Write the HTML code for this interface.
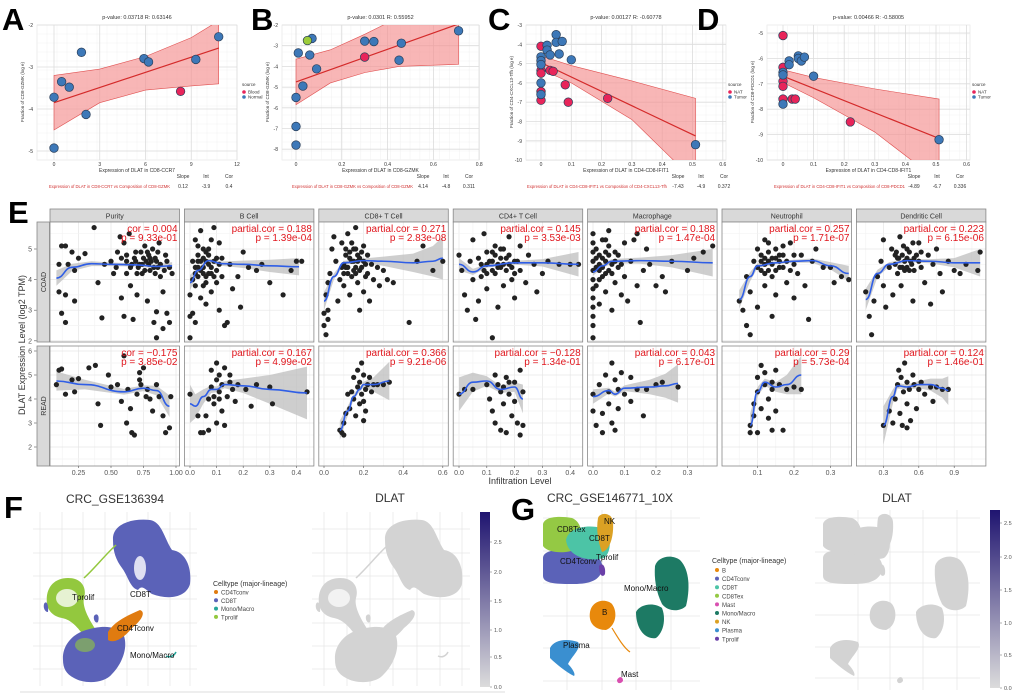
<!DOCTYPE html>
<html><head><meta charset="utf-8">
<style>
html,body{margin:0;padding:0;background:#fff;}
svg{display:block;font-family:"Liberation Sans",sans-serif;}
</style></head>
<body>
<svg id="fig" width="1020" height="698" viewBox="0 0 1020 698" xmlns="http://www.w3.org/2000/svg"></svg>
<script>
// ---------- data: panels A-D ----------
const aBlue = [[0,-3.72],[0.5,-3.35],[1,-3.48],[1.8,-2.65],[2.1,-4.13],[0,-4.93],[5.9,-2.8],[6.2,-2.88],[9.3,-2.82],[10.8,-2.28]];
const aRed = [[8.3,-3.58]];
const aLine = [[0,-3.85],[10.8,-2.55]];
const aUpper = [[0,-3.2],[3,-3.05],[6,-2.75],[9,-2.3],[10.8,-1.9]];
const aLower = [[0,-4.5],[3,-3.85],[6,-3.55],[9,-3.45],[10.8,-3.4]];
const bBlue = [[0,-5.5],[0,-6.9],[0,-7.8],[0.01,-3.35],[0.03,-4.95],[0.06,-3.45],[0.07,-2.65],[0.09,-4.12],[0.3,-2.78],[0.34,-2.8],[0.45,-3.7],[0.46,-2.88],[0.71,-2.28]];
const bRed = [[0.3,-3.55]];
const bGreen = [[0.05,-2.75]];
const bLine = [[0,-4.75],[0.71,-1.95]];
const bUpper = [[0,-3.65],[0.15,-3.2],[0.3,-2.45],[0.4,-1.9],[0.71,-1.5]];
const bLower = [[0,-5.85],[0.15,-4.8],[0.3,-4.3],[0.45,-4.0],[0.71,-3.9]];
const cBlue = [[0,-4.65],[0,-4.85],[0,-5.05],[0,-6.0],[0,-6.6],[0.02,-4.05],[0.02,-4.3],[0.05,-3.5],[0.05,-3.9],[0.03,-4.55],[0.06,-4.5],[0.07,-3.85],[0.1,-4.8],[0.51,-9.2]];
const cRed = [[0,-4.1],[0,-5.35],[0,-5.5],[0,-6.45],[0,-6.9],[0.03,-5.35],[0.04,-5.4],[0.08,-6.1],[0.09,-7.0],[0.22,-6.8]];
const cLine = [[0,-4.95],[0.51,-8.75]];
const cUpper = [[0,-4.6],[0.1,-5.1],[0.3,-5.9],[0.51,-6.8]];
const cLower = [[0,-5.3],[0.1,-6.0],[0.3,-7.9],[0.45,-10.2],[0.51,-11]];
const dBlue = [[0,-6.55],[0,-6.65],[0,-7.8],[0.02,-6.1],[0.02,-6.25],[0.05,-5.9],[0.05,-6.0],[0.06,-6.1],[0.07,-5.95],[0.1,-6.7],[0.51,-9.2]];
const dRed = [[0,-5.1],[0,-6.35],[0,-6.9],[0,-7.1],[0,-7.6],[0.03,-7.6],[0.04,-7.6],[0.22,-8.5]];
const dLine = [[0,-6.7],[0.51,-9.15]];
const dUpper = [[0,-6.45],[0.1,-6.75],[0.3,-7.2],[0.51,-7.6]];
const dLower = [[0,-6.95],[0.1,-7.55],[0.3,-8.9],[0.43,-10.1],[0.51,-10.6]];

// ---------- data: panel E ----------
const eCols = ["Purity","B Cell","CD8+ T Cell","CD4+ T Cell","Macrophage","Neutrophil","Dendritic Cell"];
const eTicks = [[0.25,0.5,0.75,1.0],[0,0.1,0.2,0.3,0.4],[0,0.2,0.4,0.6],[0,0.1,0.2,0.3,0.4],[0,0.1,0.2,0.3],[0.1,0.2,0.3],[0.3,0.6,0.9]];
const eTickLabels = [["0.25","0.50","0.75","1.00"],["0.0","0.1","0.2","0.3","0.4"],["0.0","0.2","0.4","0.6"],["0.0","0.1","0.2","0.3","0.4"],["0.0","0.1","0.2","0.3"],["0.1","0.2","0.3"],["0.3","0.6","0.9"]];
const eCoadCor = ["cor = 0.004","partial.cor = 0.188","partial.cor = 0.271","partial.cor = 0.145","partial.cor = 0.188","partial.cor = 0.257","partial.cor = 0.223"];
const eCoadP = ["p = 9.33e-01","p = 1.39e-04","p = 2.83e-08","p = 3.53e-03","p = 1.47e-04","p = 1.71e-07","p = 6.15e-06"];
const eReadCor = ["cor = \u22120.175","partial.cor = 0.167","partial.cor = 0.366","partial.cor = \u22120.128","partial.cor = 0.043","partial.cor = 0.29","partial.cor = 0.124"];
const eReadP = ["p = 3.85e-02","p = 4.99e-02","p = 9.21e-06","p = 1.34e-01","p = 6.17e-01","p = 5.73e-04","p = 1.46e-01"];
const eCoadPts = [
"0.37,5.7 0.12,5.1 0.15,5.1 0.2,4.9 0.3,4.85 0.25,4.7 0.1,4.5 0.17,4.5 0.22,4.3 0.1,3.6 0.15,3.5 0.22,3.3 0.12,2.9 0.15,2.6 0.4,3.9 0.43,2.75 0.5,4.6 0.55,4.9 0.6,5.2 0.62,4.2 0.65,3.8 0.7,3.5 0.72,4.5 0.75,4.7 0.78,4.9 0.8,4.3 0.82,5.0 0.85,4.6 0.88,4.1 0.9,3.6 0.92,4.8 0.95,4.4 0.97,4.2 0.68,4.7 0.73,4.9 0.77,4.6 0.83,4.4 0.87,5.2 0.58,3.4 0.6,2.8 0.67,2.7 0.78,3.3 0.83,2.6 0.85,2.95 0.85,2.1 0.9,2.4 0.93,2.9 0.95,2.6 0.65,4.4 0.7,4.2 0.76,4.3 0.8,4.7 0.86,4.9 0.64,5.5 0.45,4.5 0.52,4.2 0.57,5.4 0.74,4.5 0.79,4.5 0.69,4.6 0.84,4.7 0.62,4.8 0.66,4.5 0.71,4.4 0.74,4.2 0.79,4.8 0.81,4.6 0.84,4.2 0.88,4.5 0.91,4.3 0.69,4.9 0.76,5.1 0.62,4.6 0.86,4.4 0.93,4.6 0.58,4.7 0.54,4.4",
"0.0,2.1 0.0,2.8 0.01,2.9 0.02,2.6 0.0,3.5 0.01,4.0 0.02,4.4 0.03,4.8 0.02,5.3 0.04,5.6 0.05,4.2 0.05,3.8 0.06,3.2 0.07,5.0 0.07,4.5 0.08,3.6 0.09,5.7 0.1,4.3 0.1,3.9 0.11,3.0 0.11,5.2 0.12,4.7 0.13,2.5 0.14,2.6 0.15,4.5 0.16,3.7 0.18,4.1 0.19,3.1 0.2,4.9 0.22,4.4 0.25,4.3 0.27,4.5 0.3,3.9 0.35,3.5 0.38,4.3 0.4,4.6 0.42,4.6 0.04,4.6 0.06,4.9 0.08,4.4 0.03,4.1 0.09,4.1 0.12,4.1 0.04,3.4 0.01,4.6 0.05,4.4 0.07,4.2 0.06,4.6 0.03,4.4 0.02,4.2 0.03,4.6 0.04,4.3 0.05,4.7 0.06,4.1 0.07,4.8 0.08,4.2 0.09,4.6 0.1,4.7 0.02,3.8 0.05,5.0 0.03,5.1 0.08,5.3 0.11,4.5 0.06,3.9",
"0.0,2.9 0.0,2.5 0.01,2.2 0.02,2.7 0.02,3.0 0.01,3.5 0.02,3.9 0.03,4.2 0.04,5.0 0.05,5.4 0.06,4.6 0.07,3.3 0.08,4.0 0.09,5.2 0.1,4.5 0.1,3.8 0.11,4.8 0.12,5.5 0.12,4.2 0.13,3.5 0.14,4.6 0.15,5.0 0.15,4.3 0.16,5.7 0.17,3.9 0.18,4.7 0.18,3.0 0.19,4.4 0.2,5.1 0.2,3.6 0.21,4.1 0.22,4.8 0.23,3.3 0.24,4.5 0.25,4.0 0.27,4.4 0.28,3.8 0.3,4.3 0.32,4.0 0.35,3.9 0.43,2.6 0.47,4.6 0.5,5.1 0.55,4.3 0.6,4.6 0.13,4.9 0.16,4.4 0.14,4.1 0.11,4.4 0.17,4.6 0.1,4.2 0.12,4.4 0.13,4.7 0.15,4.6 0.16,4.2 0.17,4.8 0.18,4.3 0.19,4.9 0.2,4.6 0.14,5.2 0.11,5.0 0.21,4.5 0.09,4.4 0.16,5.0 0.22,4.2",
"0.0,4.8 0.01,4.3 0.02,3.5 0.03,3.0 0.04,4.6 0.05,5.3 0.06,2.7 0.07,3.3 0.08,4.1 0.09,5.5 0.1,4.5 0.1,3.7 0.12,4.9 0.12,2.1 0.13,4.2 0.14,3.1 0.15,5.0 0.15,4.4 0.16,3.8 0.17,4.7 0.18,5.4 0.19,4.0 0.2,3.4 0.2,4.6 0.22,5.1 0.22,4.3 0.24,3.9 0.25,4.8 0.27,4.5 0.28,3.6 0.3,4.2 0.32,4.6 0.36,4.5 0.4,4.5 0.43,4.5 0.12,4.6 0.17,4.3 0.2,4.2 0.05,4.0 0.1,4.2 0.14,4.5 0.18,4.5 0.08,4.5 0.09,4.3 0.11,4.6 0.12,4.3 0.13,4.8 0.14,4.4 0.15,4.7 0.16,4.5 0.18,4.8 0.19,4.4 0.21,4.6 0.1,4.9 0.13,5.1 0.16,5.0 0.07,4.7",
"0.0,2.1 0.0,2.5 0.0,2.8 0.0,3.1 0.0,3.4 0.0,3.7 0.0,4.0 0.0,4.3 0.0,4.6 0.0,4.9 0.0,5.2 0.0,5.5 0.01,4.4 0.01,3.8 0.02,4.8 0.02,3.2 0.03,5.3 0.03,4.1 0.04,4.6 0.04,3.6 0.05,5.6 0.05,4.3 0.06,3.0 0.07,4.9 0.07,3.9 0.08,4.4 0.09,3.5 0.1,5.2 0.1,4.1 0.11,3.3 0.12,4.6 0.13,5.3 0.14,3.8 0.15,2.6 0.16,4.3 0.17,5.0 0.18,4.5 0.2,3.8 0.22,4.1 0.23,3.6 0.25,4.6 0.3,4.3 0.32,4.7 0.35,4.9 0.38,5.1 0.14,5.5 0.02,4.3 0.04,4.9 0.01,4.7 0.01,5.0 0.02,4.5 0.02,4.0 0.03,4.7 0.03,4.4 0.04,4.2 0.05,4.8 0.06,4.5 0.06,4.2 0.07,4.6 0.08,4.8 0.09,4.5 0.05,5.1 0.04,5.3",
"0.05,3.3 0.06,3.0 0.07,2.5 0.08,2.2 0.07,4.1 0.08,3.6 0.09,4.6 0.1,5.0 0.1,3.1 0.11,4.3 0.12,3.8 0.12,5.3 0.13,4.6 0.14,2.8 0.14,4.1 0.15,5.0 0.15,3.5 0.16,4.4 0.17,4.8 0.18,3.9 0.19,5.2 0.2,4.5 0.2,3.4 0.21,4.2 0.22,4.8 0.23,3.8 0.24,2.7 0.25,4.6 0.26,5.0 0.28,4.4 0.3,4.4 0.31,3.9 0.33,4.1 0.35,4.0 0.13,4.3 0.16,4.6 0.11,4.8 0.12,4.5 0.14,4.7 0.1,4.4 0.11,4.6 0.12,4.2 0.13,4.9 0.14,4.5 0.15,4.3 0.16,4.8 0.17,4.4 0.18,4.6 0.19,4.3 0.2,4.8 0.12,4.7 0.15,4.7 0.17,5.1 0.13,5.2",
"0.15,3.6 0.18,2.8 0.2,2.2 0.22,3.3 0.25,4.1 0.28,4.6 0.3,5.3 0.3,3.8 0.32,3.1 0.35,4.4 0.37,5.0 0.38,3.5 0.4,4.8 0.42,4.2 0.44,5.4 0.45,3.8 0.48,4.6 0.5,5.0 0.52,4.3 0.55,3.3 0.56,4.7 0.6,5.2 0.62,4.4 0.65,3.9 0.68,4.8 0.7,3.2 0.72,4.5 0.75,5.0 0.78,4.2 0.8,3.6 0.85,4.6 0.9,4.3 0.95,4.2 1.0,4.5 1.1,4.3 1.12,4.9 0.46,4.4 0.53,4.6 0.43,4.7 0.5,4.4 0.4,4.5 0.42,4.7 0.44,4.4 0.46,4.8 0.48,4.3 0.5,4.7 0.52,4.9 0.54,4.5 0.56,4.3 0.58,4.8 0.6,4.6 0.47,5.1 0.55,5.2 0.62,4.9 0.41,4.9"
];
const eReadPts = [
"0.08,4.6 0.1,5.2 0.12,5.25 0.15,4.2 0.2,4.8 0.22,4.3 0.25,4.85 0.33,5.3 0.38,5.4 0.4,3.8 0.42,2.9 0.48,5.0 0.5,4.5 0.55,4.6 0.58,3.9 0.6,5.8 0.62,3.0 0.65,3.6 0.66,2.6 0.68,2.5 0.7,4.2 0.72,4.8 0.75,5.3 0.78,4.4 0.8,4.0 0.82,3.5 0.85,4.6 0.87,4.1 0.9,3.3 0.92,2.6 0.95,2.8 0.96,4.1 0.63,4.4 0.73,4.6 0.77,4.1 0.72,5.1",
"0.0,4.2 0.03,3.3 0.04,2.6 0.05,2.6 0.06,3.3 0.07,2.7 0.07,4.0 0.08,4.5 0.08,5.2 0.09,3.8 0.1,5.5 0.1,4.8 0.1,3.0 0.11,5.0 0.11,4.3 0.12,3.5 0.12,4.6 0.13,5.3 0.13,2.9 0.14,4.1 0.15,5.0 0.15,4.7 0.16,4.4 0.17,3.9 0.18,4.6 0.21,4.4 0.23,3.7 0.25,4.6 0.3,4.5 0.31,3.8 0.44,4.3 0.09,4.1 0.11,4.0",
"0.08,2.7 0.09,2.6 0.1,3.0 0.1,2.5 0.11,3.4 0.12,4.2 0.13,3.6 0.14,4.3 0.15,4.9 0.15,4.0 0.16,3.3 0.17,5.2 0.17,4.5 0.18,3.8 0.18,4.7 0.19,5.5 0.19,4.2 0.2,3.9 0.2,5.0 0.21,4.4 0.21,3.5 0.22,4.6 0.23,4.9 0.24,4.3 0.25,4.6 0.27,4.6 0.3,4.6 0.33,4.7 0.2,3.1",
"0.0,4.2 0.02,4.4 0.05,4.4 0.1,4.6 0.11,4.0 0.12,3.5 0.13,5.0 0.13,3.0 0.14,4.6 0.15,4.3 0.15,2.7 0.16,3.8 0.17,4.9 0.17,2.6 0.18,4.2 0.19,3.3 0.2,4.7 0.2,3.9 0.21,3.0 0.22,5.2 0.23,4.3 0.23,2.9 0.22,2.5 0.16,4.5 0.18,4.7",
"0.0,4.2 0.0,3.5 0.01,2.9 0.02,4.6 0.03,3.4 0.03,2.6 0.04,5.0 0.05,4.3 0.05,3.8 0.06,5.5 0.06,3.0 0.07,4.8 0.07,2.7 0.08,4.4 0.08,3.6 0.09,5.1 0.1,4.2 0.12,4.9 0.12,3.9 0.14,4.4 0.16,3.3 0.17,4.4 0.2,4.6 0.22,4.7 0.27,4.5",
"0.08,2.9 0.08,2.6 0.09,3.3 0.09,3.8 0.1,4.3 0.1,4.9 0.11,5.4 0.11,3.6 0.12,4.6 0.12,5.1 0.13,4.0 0.13,3.2 0.14,4.7 0.14,4.4 0.15,5.2 0.15,3.5 0.16,4.6 0.17,2.7 0.18,4.4 0.2,4.5 0.22,4.4 0.1,2.6 0.14,2.7",
"0.3,2.9 0.35,3.5 0.38,3.0 0.4,4.0 0.42,4.6 0.43,5.2 0.44,3.4 0.45,4.9 0.46,2.9 0.47,4.3 0.48,5.5 0.5,3.8 0.5,4.7 0.52,4.4 0.53,3.1 0.55,5.0 0.56,4.6 0.58,3.6 0.6,4.4 0.62,4.7 0.65,4.2 0.7,4.5 0.72,3.9 0.75,4.5 0.8,4.4 0.85,4.4 0.5,2.8"
];
// fit: x,y,halfwidth
const eCoadFit = [
"0.08,4.05,0.25 0.2,4.4,0.12 0.35,4.52,0.08 0.5,4.5,0.06 0.7,4.48,0.05 0.85,4.43,0.07 0.97,4.45,0.12",
"0.0,3.9,0.25 0.03,4.3,0.1 0.07,4.62,0.07 0.12,4.52,0.07 0.2,4.5,0.12 0.3,4.45,0.2 0.41,4.42,0.28",
"0.0,3.3,0.3 0.05,4.1,0.1 0.1,4.55,0.06 0.2,4.62,0.07 0.3,4.6,0.15 0.45,4.55,0.3 0.55,4.6,0.5 0.6,4.7,0.7",
"0.0,4.5,0.2 0.05,4.25,0.1 0.1,4.45,0.06 0.2,4.55,0.06 0.3,4.55,0.12 0.43,4.5,0.4",
"0.0,4.25,0.12 0.03,4.45,0.08 0.06,4.6,0.07 0.15,4.62,0.1 0.25,4.6,0.2 0.38,4.55,0.45",
"0.05,3.35,0.3 0.08,4.1,0.15 0.1,4.45,0.08 0.15,4.55,0.05 0.2,4.6,0.05 0.25,4.62,0.07 0.3,4.45,0.12 0.35,4.2,0.25",
"0.15,3.35,0.35 0.25,4.2,0.12 0.35,4.5,0.07 0.5,4.62,0.05 0.7,4.6,0.07 0.9,4.55,0.15 1.12,4.55,0.45"
];
const eReadFit = [
"0.08,4.75,0.4 0.3,4.6,0.2 0.6,4.3,0.12 0.75,4.45,0.12 0.85,4.35,0.2 0.95,3.7,0.45",
"0.0,3.8,0.8 0.02,3.7,0.5 0.05,4.1,0.3 0.08,4.4,0.15 0.1,4.4,0.12 0.13,4.6,0.15 0.2,4.55,0.3 0.3,4.4,0.6 0.44,4.25,1.1",
"0.08,2.7,0.4 0.12,3.5,0.2 0.15,4.1,0.12 0.18,4.4,0.1 0.2,4.6,0.12 0.25,4.6,0.3 0.33,4.75,0.8",
"0.0,4.2,0.7 0.05,4.7,0.4 0.1,4.75,0.2 0.15,4.4,0.15 0.2,4.5,0.2 0.23,4.0,0.6",
"0.0,4.1,0.3 0.05,4.35,0.12 0.07,4.2,0.1 0.1,4.45,0.12 0.18,4.5,0.3 0.23,4.55,0.5 0.27,4.65,0.8",
"0.08,2.9,0.5 0.1,4.3,0.2 0.12,4.7,0.15 0.15,4.5,0.2 0.18,4.6,0.4 0.22,5.0,0.8",
"0.3,2.9,0.8 0.38,4.1,0.3 0.42,4.55,0.12 0.5,4.5,0.1 0.6,4.6,0.15 0.7,4.6,0.25 0.8,4.45,0.4 0.85,4.35,0.6"
];

// ---------- helpers ----------
const NS = "http://www.w3.org/2000/svg";
const svg = document.getElementById("fig");
function mk(tag, attrs, parent) {
  const e = document.createElementNS(NS, tag);
  for (const k in attrs) e.setAttribute(k, attrs[k]);
  (parent || svg).appendChild(e);
  return e;
}
function nm(e, name) {
  
  
  return e;
}
function txt(x, y, s, size, opts, parent) {
  const a = Object.assign({x: x, y: y, "font-size": size, fill: "#333"}, opts || {});
  const t = mk("text", a, parent);
  t.textContent = s;
  return t;
}
function parse(s) { return s.trim().split(/\s+/).map(p => p.split(",").map(Number)); }

// ---------- panels A-D ----------
let clipId = 0;
function topPanel(cfg) {
  const g = mk("g", {});
  nm(g, cfg.name);
  const X = v => cfg.x0 + v * cfg.xs, Y = v => cfg.y0 + (cfg.ytop - v) * cfg.ys;
  const box = mk("rect", {x: cfg.bx0, y: 25, width: cfg.bx1 - cfg.bx0, height: 135, fill: "#fff", stroke: "#ddd", "stroke-width": 0.6}, g);
  nm(box, "plot-area");
  for (let i = 0; i <= 20; i++) { mk("line", {x1: cfg.bx0 + i * (cfg.bx1 - cfg.bx0) / 20, x2: cfg.bx0 + i * (cfg.bx1 - cfg.bx0) / 20, y1: 25, y2: 160, stroke: "#f1f1f1", "stroke-width": 0.5}, g); }
  for (let i = 0; i <= 15; i++) { mk("line", {x1: cfg.bx0, x2: cfg.bx1, y1: 25 + i * 9, y2: 25 + i * 9, stroke: "#f1f1f1", "stroke-width": 0.5}, g); }
  cfg.xt.forEach(v => {
    mk("line", {x1: X(v), x2: X(v), y1: 25, y2: 160, stroke: "#dcdcdc", "stroke-width": 0.8}, g);
    const t = txt(X(v), 166, String(v), 5, {"text-anchor": "middle"}, g);
    nm(t, "x-tick-label");
  });
  cfg.yt.forEach(v => {
    mk("line", {x1: cfg.bx0, x2: cfg.bx1, y1: Y(v), y2: Y(v), stroke: "#dcdcdc", "stroke-width": 0.8}, g);
    const t = txt(cfg.bx0 - 4, Y(v) + 2, String(v), 5, {"text-anchor": "end"}, g);
    nm(t, "y-tick-label");
  });
  const cid = "c" + (clipId++);
  const cp = mk("clipPath", {id: cid}, g);
  mk("rect", {x: cfg.bx0, y: 25, width: cfg.bx1 - cfg.bx0, height: 135}, cp);
  const cg = mk("g", {"clip-path": "url(#" + cid + ")"}, g);
  const poly = cfg.upper.map(p => X(p[0]) + "," + Y(p[1])).concat(cfg.lower.slice().reverse().map(p => X(p[0]) + "," + Y(p[1])));
  const rib = mk("polygon", {points: poly.join(" "), fill: "#f58f8f", "fill-opacity": 0.65, stroke: "#e05050", "stroke-width": 0.6}, cg);
  nm(rib, "confidence-band");
  const ln = mk("line", {x1: X(cfg.line[0][0]), y1: Y(cfg.line[0][1]), x2: X(cfg.line[1][0]), y2: Y(cfg.line[1][1]), stroke: "#d42a2a", "stroke-width": 1.2}, cg);
  nm(ln, "regression-line");
  cfg.series.forEach(s => s.pts.forEach(p => {
    const c = mk("circle", {cx: X(p[0]), cy: Y(p[1]), r: 4.3, fill: s.col, stroke: "#2a3f5a", "stroke-width": 0.7}, g);
    nm(c, "point-" + s.key);
  }));
  nm(txt((cfg.bx0 + cfg.bx1) / 2, 19, cfg.title, 5.5, {"text-anchor": "middle"}, g), "plot-title");
  nm(txt((cfg.bx0 + cfg.bx1) / 2, 172, cfg.xlab, 5, {"text-anchor": "middle"}, g), "x-axis-title");
  nm(txt(cfg.bx0 - 13, 92, cfg.ylab, 4.5, {"text-anchor": "middle", transform: "rotate(-90 " + (cfg.bx0 - 13) + " 92)"}, g), "y-axis-title");
  ["Slope", "Int", "Cor"].forEach((h, i) => {
    nm(txt(cfg.sx + i * 23, 178, h, 5, {"text-anchor": "middle"}, g), "stats-header");
    nm(txt(cfg.sx + i * 23, 188, cfg.stats[i], 5, {"text-anchor": "middle"}, g), "stats-value");
  });
  nm(txt(cfg.rx, 188, cfg.red, 4.3, {fill: "#d03030", textLength: cfg.rw, lengthAdjust: "spacingAndGlyphs"}, g), "comparison-label");
  nm(txt(cfg.lx, 86, "source", 4.5, {}, g), "legend-title");
  cfg.series.forEach((s, i) => {
    const c = mk("circle", {cx: cfg.lx + 2, cy: 92 + i * 5, r: 1.8, fill: s.col}, g);
    nm(c, "legend-swatch");
    nm(txt(cfg.lx + 6, 93.7 + i * 5, s.key, 4.5, {}, g), "legend-entry");
  });
  nm(txt(cfg.lab[0], 30, cfg.letter, 31, {"font-weight": "bold", fill: "#000"}, g), "panel-label");
}
const BLUE = "#3d78b8", RED = "#e8245a", GREEN = "#9ccc3a";
topPanel({name: "panel-a", letter: "A", lab: [2], x0: 54, xs: 15.25, y0: 25, ys: 42, ytop: -2, bx0: 37, bx1: 237,
  xt: [0, 3, 6, 9, 12], yt: [-2, -3, -4, -5], upper: aUpper, lower: aLower, line: aLine,
  series: [{key: "Blood", col: RED, pts: aRed}, {key: "Normal", col: BLUE, pts: aBlue}],
  title: "p-value: 0.03718    R: 0.63146", xlab: "Expression of  DLAT  in CD8-CCR7", ylab: "Fraction of CD8-GZMK (log e)",
  sx: 183, stats: ["0.12", "-3.9", "0.4"], rx: 49, rw: 121, red: "Expression of  DLAT  in CD8-CCR7 vs Composition of CD8-GZMK", lx: 242});
topPanel({name: "panel-b", letter: "B", lab: [251], x0: 296, xs: 229, y0: 25, ys: 20.7, ytop: -2, bx0: 282, bx1: 479,
  xt: [0, 0.2, 0.4, 0.6, 0.8], yt: [-2, -3, -4, -5, -6, -7, -8], upper: bUpper, lower: bLower, line: bLine,
  series: [{key: "Blood", col: RED, pts: bRed}, {key: "Normal", col: BLUE, pts: bBlue}, {key: "Tumor", col: GREEN, pts: bGreen}],
  title: "p-value: 0.0301    R: 0.55952", xlab: "Expression of DLAT in CD8-GZMK", ylab: "Fraction of CD8-GZMK (log e)",
  sx: 423, stats: ["4.14", "-4.8", "0.311"], rx: 292, rw: 121, red: "Expression of DLAT in CD8-GZMK vs Composition of CD8-GZMK", lx: 529});
topPanel({name: "panel-c", letter: "C", lab: [488], x0: 541, xs: 303, y0: 25, ys: 19.3, ytop: -3, bx0: 526, bx1: 726,
  xt: [0, 0.1, 0.2, 0.3, 0.4, 0.5, 0.6], yt: [-3, -4, -5, -6, -7, -8, -9, -10], upper: cUpper, lower: cLower, line: cLine,
  series: [{key: "NAT", col: RED, pts: cRed}, {key: "Tumor", col: BLUE, pts: cBlue}],
  title: "p-value: 0.00127    R: -0.60778", xlab: "Expression of DLAT in CD4-CD8-IFIT1", ylab: "Fraction of CD4-CXCL13-Tfh (log e)",
  sx: 678, stats: ["-7.43", "-4.9", "0.372"], rx: 527, rw: 140, red: "Expression of DLAT in CD4-CD8-IFIT1 vs Composition of CD4-CXCL13-Tfh", lx: 728});
topPanel({name: "panel-d", letter: "D", lab: [697], x0: 783, xs: 306, y0: 33, ys: 25.4, ytop: -5, bx0: 767, bx1: 970,
  xt: [0, 0.1, 0.2, 0.3, 0.4, 0.5, 0.6], yt: [-5, -6, -7, -8, -9, -10], upper: dUpper, lower: dLower, line: dLine,
  series: [{key: "NAT", col: RED, pts: dRed}, {key: "Tumor", col: BLUE, pts: dBlue}],
  title: "p-value: 0.00466    R: -0.58005", xlab: "Expression of DLAT in CD4-CD8-IFIT1", ylab: "Fraction of CD8-PDCD1 (log e)",
  sx: 914, stats: ["-4.89", "-6.7", "0.336"], rx: 774, rw: 131, red: "Expression of DLAT in CD4-CD8-IFIT1 vs Composition of CD8-PDCD1", lx: 972});

// ---------- panel E ----------
(function () {
  const g = mk("g", {});
  nm(g, "panel-e");
  nm(txt(8, 223, "E", 31, {"font-weight": "bold", fill: "#000"}, g), "panel-label");
  const x0s = [46, 190, 324, 459, 593, 721, 848], xss = [130, 266, 198, 278, 315, 365, 118];
  const rows = [{top: 222, bot: 342, y5: 249, ys: 30.6, ticks: [2, 3, 4, 5], lab: "COAD", pts: eCoadPts, fit: eCoadFit, cor: eCoadCor, p: eCoadP},
                {top: 346, bot: 466, y5: 375, ys: 24, ticks: [2, 3, 4, 5, 6], lab: "READ", pts: eReadPts, fit: eReadFit, cor: eReadCor, p: eReadP}];
  eCols.forEach((name, ci) => {
    const L = 50 + ci * 134.4, R = L + 129.5;
    const st = mk("rect", {x: L, y: 209, width: R - L, height: 13, fill: "#d9d9d9", stroke: "#888", "stroke-width": 0.8}, g);
    nm(st, "facet-strip");
    nm(txt((L + R) / 2, 218.5, name, 7, {"text-anchor": "middle"}, g), "facet-title");
    const X = v => x0s[ci] + v * xss[ci];
    rows.forEach((r, ri) => {
      const Y = v => r.y5 - (v - 5) * r.ys;
      const pg = mk("g", {}, g);
      nm(pg, "facet-" + r.lab.toLowerCase() + "-" + ci);
      mk("rect", {x: L, y: r.top, width: R - L, height: r.bot - r.top, fill: "#fff"}, pg);
      const xt = eTicks[ci];
      const step = xt[1] - xt[0];
      for (let v = xt[0] - step * 2; v <= xt[xt.length - 1] + step * 2; v += step / 2) {
        const px = X(v);
        if (px > L && px < R) mk("line", {x1: px, x2: px, y1: r.top, y2: r.bot, stroke: Math.abs((v - xt[0]) / step - Math.round((v - xt[0]) / step)) < 0.01 ? "#e6e6e6" : "#f3f3f3", "stroke-width": 0.7}, pg);
      }
      for (let v = 1.5; v <= 6.5; v += 0.5) {
        const py = Y(v);
        if (py > r.top && py < r.bot) mk("line", {x1: L, x2: R, y1: py, y2: py, stroke: v % 1 === 0 ? "#e6e6e6" : "#f3f3f3", "stroke-width": 0.7}, pg);
      }
      const fit = parse(r.fit[ci]);
      const cid = "ce" + ci + ri;
      const cp = mk("clipPath", {id: cid}, pg);
      mk("rect", {x: L, y: r.top, width: R - L, height: r.bot - r.top}, cp);
      const cg = mk("g", {"clip-path": "url(#" + cid + ")"}, pg);
      const band = fit.map(p => X(p[0]) + "," + Y(p[1] + p[2])).concat(fit.slice().reverse().map(p => X(p[0]) + "," + Y(p[1] - p[2])));
      const bd = mk("polygon", {points: band.join(" "), fill: "#bdbdbd", "fill-opacity": 0.75}, cg);
      nm(bd, "confidence-band");
      parse(r.pts[ci]).forEach(p => {
        const c = mk("circle", {cx: X(p[0]), cy: Y(p[1]), r: 2.6, fill: "#222"}, cg);
        nm(c, "point");
      });
      let d = "M" + X(fit[0][0]) + "," + Y(fit[0][1]);
      for (let i = 1; i < fit.length; i++) {
        const a = fit[i - 1], b = fit[i];
        const mx = (X(a[0]) + X(b[0])) / 2;
        d += " C" + mx + "," + Y(a[1]) + " " + mx + "," + Y(b[1]) + " " + X(b[0]) + "," + Y(b[1]);
      }
      const fl = mk("path", {d: d, fill: "none", stroke: "#2f5ee6", "stroke-width": 1.6}, cg);
      nm(fl, "loess-curve");
      mk("rect", {x: L, y: r.top, width: R - L, height: r.bot - r.top, fill: "none", stroke: "#888", "stroke-width": 0.8}, pg);
      nm(txt(R - 2, r.top + 10, r.cor[ci], 10, {"text-anchor": "end", fill: "#e0161d"}, pg), "correlation-label");
      nm(txt(R - 2, r.top + 19, r.p[ci], 10, {"text-anchor": "end", fill: "#e0161d"}, pg), "p-value-label");
      if (ri === 1) {
        xt.forEach((v, k) => {
          mk("line", {x1: X(v), x2: X(v), y1: r.bot, y2: r.bot + 2, stroke: "#555", "stroke-width": 0.6}, g);
          nm(txt(X(v), r.bot + 9, eTickLabels[ci][k], 7, {"text-anchor": "middle", fill: "#555"}, g), "x-tick-label");
        });
      }
    });
  });
  rows.forEach(r => {
    const s = mk("rect", {x: 37, y: r.top, width: 12.5, height: r.bot - r.top, fill: "#d9d9d9", stroke: "#888", "stroke-width": 0.8}, g);
    nm(s, "row-strip");
    const cy = (r.top + r.bot) / 2;
    nm(txt(46, cy, r.lab, 7, {"text-anchor": "middle", transform: "rotate(-90 46 " + cy + ")"}, g), "row-label");
    r.ticks.forEach(v => {
      const py = r.y5 - (v - 5) * r.ys;
      mk("line", {x1: 34, x2: 36.5, y1: py, y2: py, stroke: "#555", "stroke-width": 0.6}, g);
      nm(txt(32, py + 2.5, String(v), 7, {"text-anchor": "end", fill: "#555"}, g), "y-tick-label");
    });
  });
  nm(txt(25, 345, "DLAT Expression Level (log2 TPM)", 9, {"text-anchor": "middle", transform: "rotate(-90 25 345)"}, g), "y-axis-title");
  nm(txt(520, 484, "Infiltration Level", 9, {"text-anchor": "middle"}, g), "x-axis-title");
})();

// ---------- panels F, G (UMAP) ----------
const fTypes = ["CD4Tconv", "CD8T", "Mono/Macro", "Tprolif"];
const fCols = ["#e07b10", "#5b62b8", "#26a69a", "#93c83e"];
const gTypes = ["B", "CD4Tconv", "CD8T", "CD8Tex", "Mast", "Mono/Macro", "NK", "Plasma", "Tprolif"];
const gCols = ["#e8890c", "#5b62b8", "#4cc4a6", "#94c944", "#d94fb0", "#1d7a64", "#dba124", "#3a8fd0", "#6a3fa8"];
const cbTicks = ["0.0", "0.5", "1.0", "1.5", "2.0", "2.5"];

function grid(g, xs, ys, x0, x1, y0, y1) {
  xs.forEach(x => mk("line", {x1: x, x2: x, y1: y0, y2: y1, stroke: "#e8e8e8", "stroke-width": 0.8}, g));
  ys.forEach(y => mk("line", {x1: x0, x2: x1, y1: y, y2: y, stroke: "#e8e8e8", "stroke-width": 0.8}, g));
}
function blob(g, d, fill, name, extra) {
  const p = mk("path", Object.assign({d: d, fill: fill}, extra || {}), g);
  nm(p, name);
  return p;
}
function colorbar(g, x, y0, y1, tickYs) {
  const id = "cbg" + x;
  const defs = mk("defs", {}, g);
  const lg = mk("linearGradient", {id: id, x1: 0, y1: 1, x2: 0, y2: 0}, defs);
  mk("stop", {offset: "0", "stop-color": "#dcdcdc"}, lg);
  mk("stop", {offset: "1", "stop-color": "#1f1470"}, lg);
  nm(mk("rect", {x: x, y: y0, width: 10, height: y1 - y0, fill: "url(#" + id + ")"}, g), "colorbar");
  cbTicks.forEach((t, i) => {
    mk("line", {x1: x + 10, x2: x + 12, y1: tickYs[i], y2: tickYs[i], stroke: "#666", "stroke-width": 0.5}, g);
    nm(txt(x + 14, tickYs[i] + 2, t, 5.5, {fill: "#555"}, g), "colorbar-tick");
  });
}
const fShapes = {
  cd8: "M113,540 C112,525 130,518 150,520 C162,522 164,538 172,550 C186,552 192,568 190,584 C186,598 168,600 152,594 C146,590 142,584 138,590 C130,588 128,576 122,568 C116,560 113,552 113,540 Z",
  bottom: "M63,660 C62,646 72,634 86,630 C100,626 116,624 124,636 C128,648 122,664 112,674 C104,684 84,684 74,678 C66,674 63,668 63,660 Z",
  loop: "M47,604 C45,588 54,578 68,578 C82,578 87,588 84,598 C82,606 88,618 96,630 C100,638 90,642 84,636 C78,628 72,620 62,618 C52,616 48,610 47,604 Z",
  tail: "M84,578 C95,568 105,555 116,545",
  orange: "M108,632 C114,622 126,616 140,610 C146,612 142,620 132,628 C124,638 114,644 108,640 Z",
  teal: "M166,656 C170,658 174,656 176,652",
  bits: "M94,616 C97,612 100,616 98,622 C96,624 93,620 94,616 Z M44,604 C46,600 49,604 48,612 C45,612 43,608 44,604 Z"
};
(function () {
  const g = mk("g", {});
  nm(g, "panel-f");
  nm(txt(4, 518, "F", 31, {"font-weight": "bold", fill: "#000"}, g), "panel-label");
  nm(txt(115, 503, "CRC_GSE136394", 12, {"text-anchor": "middle"}, g), "umap-title");
  grid(g, [40, 62, 83, 105, 127, 148, 170, 190], [529, 553, 576, 599, 623, 646, 669], 33, 197, 512, 686);
  blob(g, fShapes.cd8, fCols[1], "cluster-cd8t");
  mk("ellipse", {cx: 140, cy: 568, rx: 6, ry: 12, fill: "#dfe0f2"}, g);
  blob(g, fShapes.loop, fCols[3], "cluster-tprolif");
  mk("ellipse", {cx: 67, cy: 598, rx: 11, ry: 9, fill: "#e6f2d2"}, g);
  blob(g, fShapes.tail, "none", "cluster-tprolif-tail", {stroke: fCols[3], "stroke-width": 1.5});
  blob(g, fShapes.bottom, fCols[1], "cluster-cd8t-lower");
  mk("ellipse", {cx: 85, cy: 645, rx: 10, ry: 7, fill: fCols[3], "fill-opacity": 0.6}, g);
  blob(g, fShapes.orange, fCols[0], "cluster-cd4tconv");
  blob(g, fShapes.teal, "none", "cluster-mono-macro", {stroke: fCols[2], "stroke-width": 1.5});
  blob(g, fShapes.bits, fCols[1], "cluster-fragment");
  [["Tprolif", 72, 600], ["CD8T", 130, 597], ["CD4Tconv", 117, 631], ["Mono/Macro", 130, 658]].forEach(l => nm(txt(l[1], l[2], l[0], 8, {fill: "#111"}, g), "cluster-label"));
  nm(txt(213, 586, "Celltype (major-lineage)", 7, {}, g), "legend-title");
  fTypes.forEach((t, i) => {
    nm(mk("circle", {cx: 216, cy: 592 + i * 8.3, r: 2, fill: fCols[i]}, g), "legend-swatch");
    nm(txt(221, 594.5 + i * 8.3, t, 6, {fill: "#444"}, g), "legend-entry");
  });
  nm(txt(390, 502, "DLAT", 12, {"text-anchor": "middle"}, g), "feature-title");
  grid(g, [324, 347, 370, 393, 417, 440, 462], [529, 553, 576, 599, 623, 646, 669], 312, 470, 512, 686);
  const fg = mk("g", {transform: "translate(272,0)"}, g);
  nm(fg, "feature-map");
  [fShapes.cd8, fShapes.loop, fShapes.bottom, fShapes.orange, fShapes.bits].forEach(d => blob(fg, d, "#d3d3d3", "feature-cluster"));
  mk("ellipse", {cx: 67, cy: 598, rx: 11, ry: 9, fill: "#f2f2f2"}, fg);
  blob(fg, fShapes.tail, "none", "feature-tail", {stroke: "#d3d3d3", "stroke-width": 1.5});
  blob(fg, fShapes.teal, "none", "feature-teal", {stroke: "#d3d3d3", "stroke-width": 1.5});
  colorbar(g, 480, 512, 687, [687, 657, 630, 601, 572, 542]);
  mk("line", {x1: 20, x2: 505, y1: 692, y2: 692, stroke: "#ddd", "stroke-width": 1}, g);
})();
const gShapes = [
  ["M543,558 C543,550 560,548 580,550 C596,552 604,560 602,570 C600,580 590,584 574,584 C558,584 543,584 543,576 Z", 1],
  ["M543,524 C545,516 560,516 572,518 C582,522 584,536 578,548 C570,554 548,554 543,546 Z", 3],
  ["M566,540 C568,528 586,524 602,528 C612,534 612,552 604,558 C590,562 568,558 566,540 Z", 2],
  ["M598,518 C600,512 612,512 613,522 C614,536 610,550 602,552 C598,542 596,530 598,518 Z", 6],
  ["M599,566 C602,562 606,566 605,574 C603,578 599,576 599,566 Z", 8],
  ["M655,566 C658,556 672,554 680,560 C690,570 690,590 686,606 C680,612 668,612 662,604 C656,592 654,578 655,566 Z", 5],
  ["M636,612 C640,604 654,602 662,608 C666,618 664,632 656,638 C646,640 636,630 636,612 Z", 5],
  ["M590,612 C592,600 606,598 612,604 C618,612 616,626 606,630 C596,630 588,624 590,612 Z", 0],
  ["M550,648 C554,640 566,638 578,642 C582,648 572,656 568,664 C572,668 576,674 574,676 C566,672 556,664 550,658 Z", 7],
  ["M617,680 C619,676 623,676 623,681 C621,684 617,684 617,680 Z", 4]
];
(function () {
  const g = mk("g", {});
  nm(g, "panel-g");
  nm(txt(511, 520, "G", 31, {"font-weight": "bold", fill: "#000"}, g), "panel-label");
  nm(txt(610, 502, "CRC_GSE146771_10X", 12, {"text-anchor": "middle"}, g), "umap-title");
  grid(g, [567, 602, 636, 671], [518, 551, 583, 616, 648, 681], 543, 700, 510, 690);
  gShapes.forEach(s => blob(g, s[0], gCols[s[1]], "cluster-" + gTypes[s[1]].toLowerCase().replace("/", "-")));
  blob(g, "M612,628 C618,638 624,648 630,652", "none", "cluster-b-tail", {stroke: gCols[0], "stroke-width": 1.2});
  [["NK", 604, 524], ["CD8Tex", 557, 532], ["CD8T", 589, 541], ["Tprolif", 596, 560], ["CD4Tconv", 560, 564], ["Mono/Macro", 624, 591], ["B", 602, 615], ["Plasma", 563, 648], ["Mast", 621, 677]].forEach(l => nm(txt(l[1], l[2], l[0], 8, {fill: "#111"}, g), "cluster-label"));
  nm(txt(712, 563, "Celltype (major-lineage)", 7, {}, g), "legend-title");
  gTypes.forEach((t, i) => {
    nm(mk("circle", {cx: 717, cy: 570 + i * 8.6, r: 2, fill: gCols[i]}, g), "legend-swatch");
    nm(txt(722, 572.5 + i * 8.6, t, 6, {fill: "#444"}, g), "legend-entry");
  });
  nm(txt(897, 502, "DLAT", 12, {"text-anchor": "middle"}, g), "feature-title");
  grid(g, [858, 890, 923, 957], [518, 552, 583, 615, 647, 678], 815, 980, 510, 690);
  const fg = mk("g", {transform: "translate(280,0)"}, g);
  nm(fg, "feature-map");
  gShapes.forEach(s => blob(fg, s[0], "#d3d3d3", "feature-cluster"));
  colorbar(g, 990, 510, 688, [688, 655, 623, 590, 557, 523]);
})();
</script>
</body></html>
